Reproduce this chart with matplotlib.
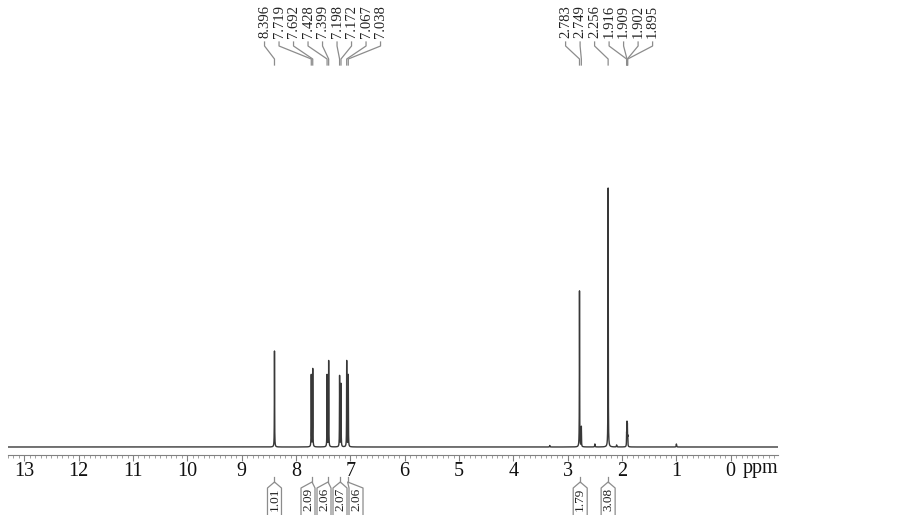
#!/usr/bin/env python
# 1H NMR spectrum with peak picks and integrals

import numpy as np
import matplotlib
matplotlib.use('Agg')
import matplotlib.pyplot as plt
from matplotlib.transforms import blended_transform_factory

# peak list (ppm) and heights (arbitrary units)
peak_ppm = [8.396, 7.719, 7.692, 7.428, 7.399, 7.198, 7.172, 7.067, 7.038,
            2.783, 2.749, 2.256, 1.916, 1.909, 1.902, 1.895]
peak_h = [96, 72, 78, 72, 86, 71, 63, 86, 72,
          156, 20, 259, 12, 22, 20, 9]
peak_labels = ['8.396', '7.719', '7.692', '7.428', '7.399', '7.198', '7.172',
               '7.067', '7.038', '2.783', '2.749', '2.256', '1.916', '1.909',
               '1.902', '1.895']

# small unlabelled bumps (impurities / solvent)
minor_ppm = [3.33, 2.50, 2.10, 1.00]
minor_h = [1.5, 3, 2, 3]

# integrals: centre ppm and value
int_ppm = [8.396, 7.705, 7.41, 7.185, 7.05, 2.77, 2.256]
int_val = ['1.01', '2.09', '2.06', '2.07', '2.06', '1.79', '3.08']

xticks = list(range(0, 14))

W, H = 903, 515
fig = plt.figure(figsize=(W / 100, H / 100), dpi=100)

x0, x1 = 8, 778          # axes extent in pixels
yb = 455                 # axis line, px from top
ax = fig.add_axes([x0 / W, 1 - yb / H, (x1 - x0) / W, yb / H])
xmin, xmax = 13.3, -0.87
ax.set_xlim(xmin, xmax)
ax.set_ylim(-8, 447)
px_per_ppm = (x1 - x0) / (xmin - xmax)

# spectrum = sum of narrow lorentzians
x = np.linspace(xmin, xmax, 400000)
y = np.zeros_like(x)
hw = 0.0025
for p, h in zip(peak_ppm, peak_h):
    y += h / (1 + ((x - p) / hw) ** 2)
for p, h in zip(minor_ppm, minor_h):
    y += h / (1 + ((x - p) / 0.004) ** 2)
ax.plot(x, y, color='#383838', lw=1.0)

for s in ['top', 'right', 'left']:
    ax.spines[s].set_visible(False)
ax.spines['bottom'].set_color('#808080')
ax.spines['bottom'].set_linewidth(0.8)
ax.set_yticks([])
ax.set_xticks(xticks)
ax.set_xticks(np.arange(-0.8, 13.31, 0.1), minor=True)
ax.tick_params(axis='x', which='major', length=4, width=0.8, color='#808080',
               pad=1, labelsize=14.5, labelcolor='#111111')
ax.tick_params(axis='x', which='minor', length=2, width=0.6, color='#909090')
for lab in ax.get_xticklabels():
    lab.set_fontfamily('Liberation Serif')

serif = 'Liberation Serif'
trx = blended_transform_factory(ax.transData, fig.transFigure)


def fy(py):
    return 1 - py / H


ax.text(0 - 12 / px_per_ppm, fy(468), 'ppm', transform=trx, ha='left',
        va='center', fontsize=14.5, family=serif, color='#111111')


def spread(pos, gap):
    # merge neighbours whose evenly spaced blocks would overlap,
    # ppm decreases left to right so labels go out in descending order
    groups = [[i] for i in range(len(pos))]

    def layout(g):
        c = np.mean([pos[i] for i in g])
        return [c - (k - (len(g) - 1) / 2) * gap for k in range(len(g))]

    merged = True
    while merged:
        merged = False
        for j in range(len(groups) - 1):
            a, b = layout(groups[j]), layout(groups[j + 1])
            if a[-1] - b[0] < gap:
                groups[j] = groups[j] + groups[j + 1]
                del groups[j + 1]
                merged = True
                break
    out = [0.0] * len(pos)
    for g in groups:
        for i, v in zip(g, layout(g)):
            out[i] = v
    return out, groups


# peak labels on top
gap = 14.5 / px_per_ppm
lab_x, groups = spread(peak_ppm, gap)
shift = [3, 2]   # label blocks sit a little left of centre in the reference
for gi, g in enumerate(groups):
    for i in g:
        lab_x[i] += shift[min(gi, 1)] / px_per_ppm
for p, lx, t in zip(peak_ppm, lab_x, peak_labels):
    ax.text(lx, fy(38), t, transform=trx, rotation=90, ha='center',
            va='bottom', fontsize=10.5, family=serif, color='#222222')
    ax.plot([lx, lx, p, p], [fy(42), fy(46), fy(59), fy(65)], transform=trx,
            color='#8c8c8c', lw=0.9, clip_on=False)

# integrals under the axis
igap = 16 / px_per_ppm
ilab_x, _ = spread(int_ppm, igap)
bw = 7 / px_per_ppm
for c, lx, t in zip(int_ppm, ilab_x, int_val):
    ax.plot([lx - bw, lx - bw, c, lx + bw, lx + bw],
            [fy(515), fy(488), fy(482), fy(488), fy(515)],
            transform=trx, color='#8c8c8c', lw=0.9, clip_on=False)
    ax.plot([c, c], [fy(477), fy(482)], transform=trx, color='#8c8c8c',
            lw=0.9, clip_on=False)
    ax.text(lx, fy(499), t, transform=trx, rotation=90, ha='center',
            va='center', fontsize=9.5, family=serif, color='#222222')

fig.savefig('out.png', dpi=100)
